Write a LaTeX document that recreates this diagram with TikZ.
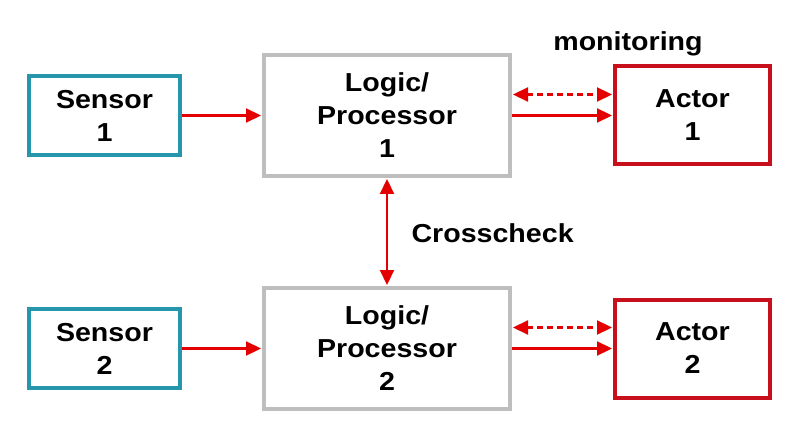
\documentclass[tikz,border=0pt]{standalone}
\usepackage{fontspec}
\setmainfont{Liberation Sans}[FakeStretch=1.1]
\usetikzlibrary{arrows.meta,positioning}
\definecolor{sensorcol}{RGB}{38,150,172}
\definecolor{logiccol}{RGB}{190,190,190}
\definecolor{actorcol}{RGB}{200,16,28}
\definecolor{arrowcol}{RGB}{228,0,0}
\begin{document}
\begin{tikzpicture}[x=1pt,y=1pt,>={Triangle[length=15pt,width=14pt]},shorten >=1pt,
  node distance=233pt, on grid,
  box/.style={draw,line width=4pt,fill=white,align=center,inner sep=0pt,
    font=\bfseries\fontsize{26}{33}\selectfont},
  sensor/.style={box,draw=sensorcol,minimum width=151pt,minimum height=79pt},
  logic/.style={box,draw=logiccol,minimum width=246pt,minimum height=121pt},
  actor/.style={box,draw=actorcol,minimum width=155pt,minimum height=98pt},
  link/.style={arrowcol,line width=2.2pt},
  lbl/.style={font=\bfseries\fontsize{26}{33}\selectfont}]
  \useasboundingbox (0,0) rectangle (800,-422);
  \node[logic]  (L1) at (387,-115.5) {Logic/\\Processor\\1};
  \node[logic]  (L2) [below=of L1] {Logic/\\Processor\\2};
  \node[sensor] (S1) [left=282.5pt of L1] {Sensor\\1};
  \node[sensor] (S2) [left=282.5pt of L2] {Sensor\\2};
  \node[actor]  (A1) [right=305.5pt of L1] {Actor\\1};
  \node[actor]  (A2) [right=305.5pt of L2] {Actor\\2};

  \node[lbl] (mon) at (628,-44) {monitoring};
  \node[lbl,anchor=west] (cc) at (408,-233) {Crosscheck};

  \path[link,->] (S1) edge (L1)
                 (S2) edge (L2)
                 (L1) edge (A1)
                 (L2) edge (A2);
  \path[link,<->,shorten <=1pt] (L1) edge (L2)
      ([yshift=21pt]L1.east) edge[dash pattern=on 6pt off 4pt] ([yshift=21pt]A1.west)
      ([yshift=21pt]L2.east) edge[dash pattern=on 6pt off 4pt] ([yshift=21pt]A2.west);
\end{tikzpicture}
\end{document}
